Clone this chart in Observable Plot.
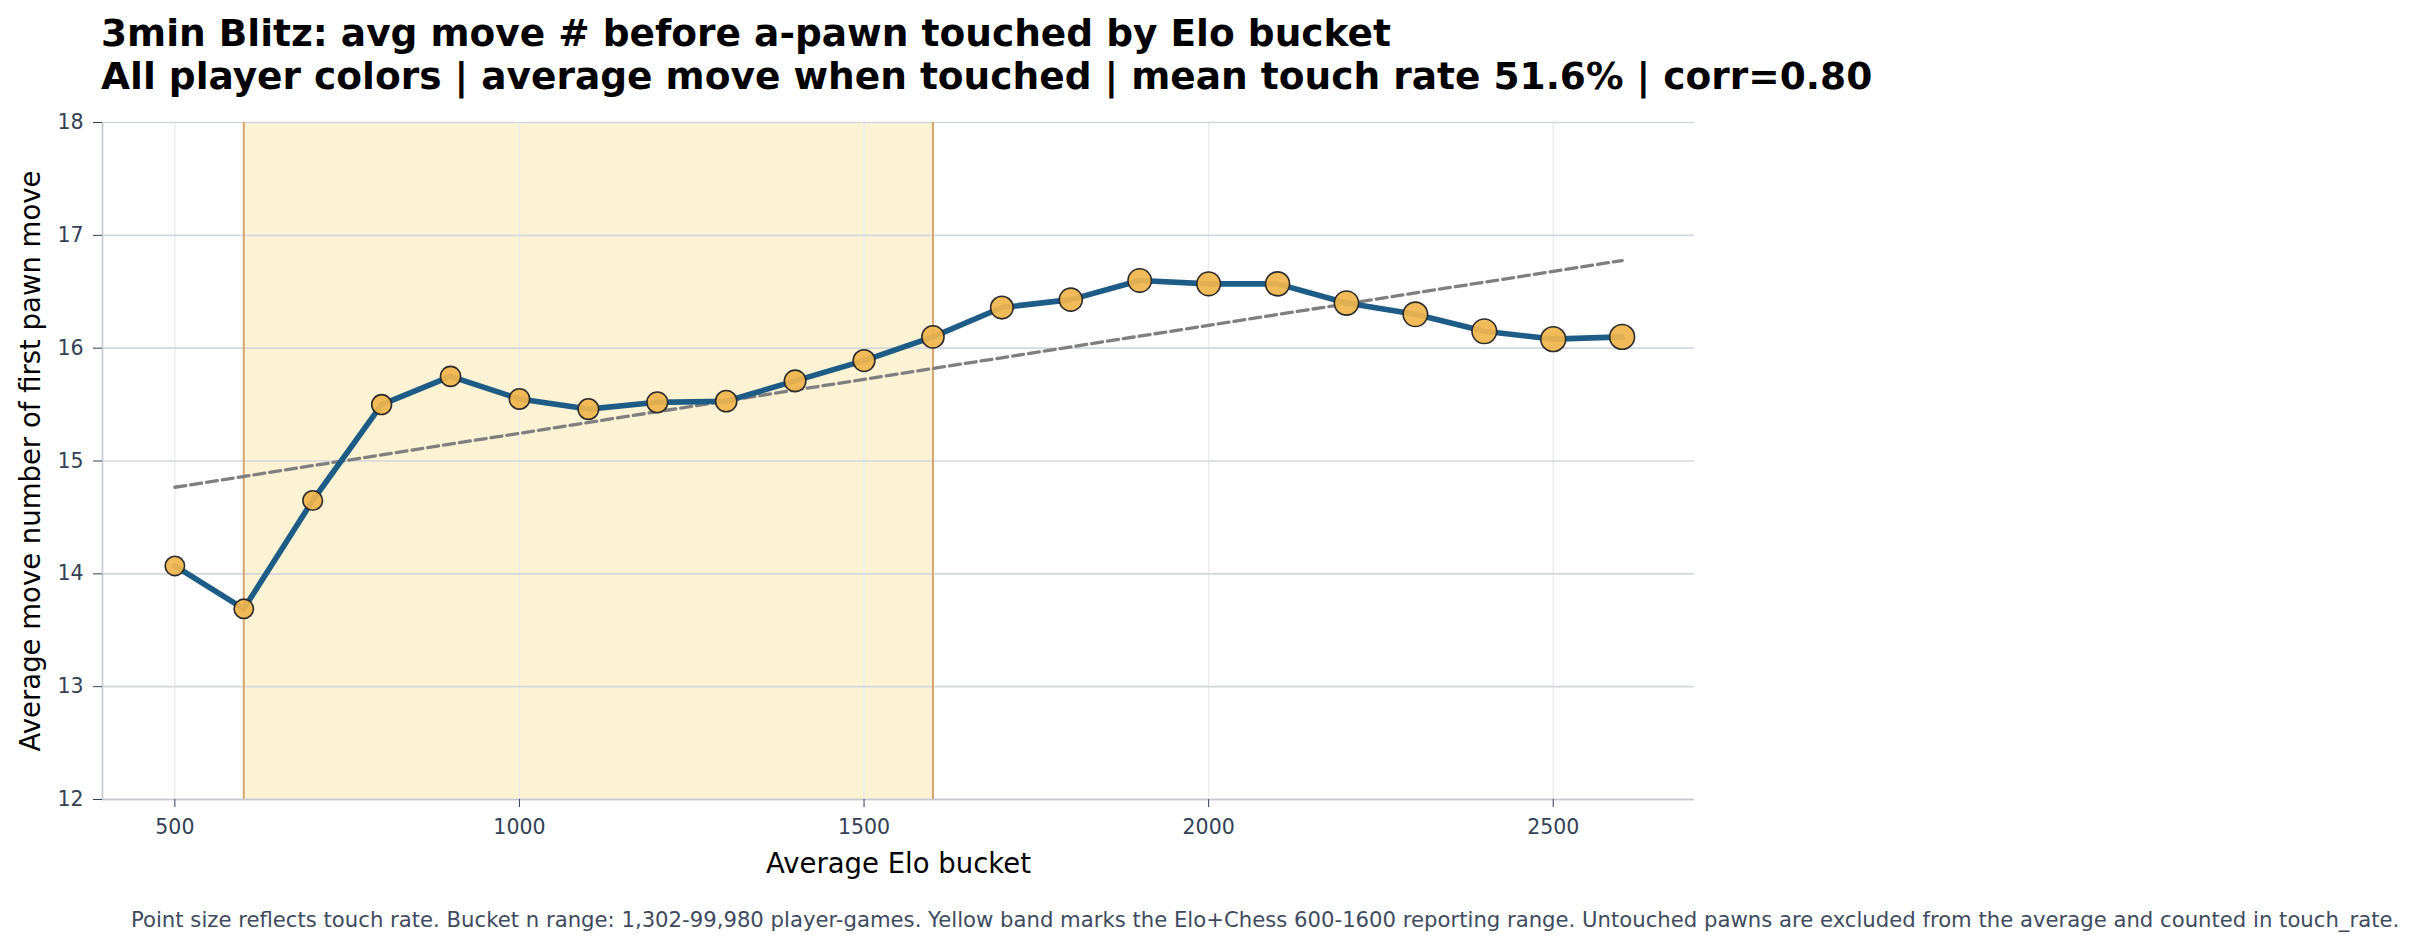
<!DOCTYPE html>
<html>
<head>
<meta charset="utf-8">
<script src="https://cdn.jsdelivr.net/npm/d3@7"></script>
<script src="https://cdn.jsdelivr.net/npm/@observablehq/plot@0.6"></script>
<style>
  html, body { margin: 0; padding: 0; background: #ffffff; }
  body { width: 2414px; height: 950px; overflow: hidden; font-family: "DejaVu Sans", sans-serif; }
  #title { height: 100px; box-sizing: border-box; padding: 12px 0 0 101px; font-weight: bold; font-size: 37.5px; line-height: 43px; color: #000; white-space: nowrap; }
  #chart { height: 800px; }
  #footer { height: 50px; box-sizing: border-box; padding-left: 131px; font-size: 21.2px; line-height: 40px; color: #3e4b5e; white-space: nowrap; }
</style>
</head>
<body>
<div id="title"><div>3min Blitz: avg move # before a-pawn touched by Elo bucket</div><div>All player colors | average move when touched | mean touch rate 51.6% | corr=0.80</div></div>
<div id="chart"></div>
<div id="footer">Point size reflects touch rate. Bucket n range: 1,302-99,980 player-games. Yellow band marks the Elo+Chess 600-1600 reporting range. Untouched pawns are excluded from the average and counted in touch_rate.</div>
<script>
const eloBuckets = [500, 600, 700, 800, 900, 1000, 1100, 1200, 1300, 1400, 1500, 1600, 1700, 1800, 1900, 2000, 2100, 2200, 2300, 2400, 2500, 2600];
const avgMove    = [14.07, 13.69, 14.65, 15.50, 15.75, 15.55, 15.46, 15.52, 15.53, 15.71, 15.89, 16.10, 16.36, 16.43, 16.60, 16.57, 16.57, 16.40, 16.30, 16.15, 16.08, 16.10];
const touchRate  = [0.39, 0.39, 0.40, 0.41, 0.42, 0.43, 0.44, 0.45, 0.47, 0.48, 0.49, 0.51, 0.53, 0.55, 0.57, 0.58, 0.60, 0.61, 0.62, 0.63, 0.64, 0.64];
const bandRange  = [600, 1600];
const xDomain    = [395, 2705];
const yDomain    = [12, 18];
const xTicks     = [500, 1000, 1500, 2000, 2500];
const yTicks     = [12, 13, 14, 15, 16, 17, 18];
const xLabel     = "Average Elo bucket";
const yLabel     = "Average move number of first pawn move";

const data = eloBuckets.map((elo, i) => ({elo, move: avgMove[i], rate: touchRate[i]}));
const band = [{x1: bandRange[0], x2: bandRange[1]}];

const chart = Plot.plot({
  width: 2414,
  height: 800,
  marginLeft: 102,
  marginRight: 720,
  marginTop: 22,
  marginBottom: 101,
  x: {domain: xDomain},
  y: {domain: yDomain},
  r: {type: "sqrt", domain: [0, 0.64], range: [0, 12.4]},
  style: {fontFamily: "DejaVu Sans, sans-serif", fontSize: "20.5px", color: "#334155", background: "#ffffff", overflow: "visible"},
  marks: [
    Plot.rect(band, {x1: "x1", x2: "x2", fill: "#fcf2d4"}),
    Plot.gridX({ticks: xTicks, stroke: "#e9ebef", strokeOpacity: 1, strokeWidth: 1.3}),
    Plot.gridY({ticks: yTicks, stroke: "#d3d7de", strokeOpacity: 1, strokeWidth: 1.6}),
    Plot.ruleX(bandRange, {stroke: "#d6a66e", strokeWidth: 2}),
    Plot.ruleY([yDomain[0]], {stroke: "#c3c8cf", strokeWidth: 1.6}),
    Plot.ruleX([xDomain[0]], {stroke: "#c3c8cf", strokeWidth: 1.6}),
    Plot.linearRegressionY(data, {x: "elo", y: "move", ci: 0, stroke: "#7f7f7f", strokeWidth: 3.3, strokeDasharray: "11,5"}),
    Plot.line(data, {x: "elo", y: "move", stroke: "#1d5c87", strokeWidth: 5.6}),
    Plot.dot(data, {x: "elo", y: "move", r: "rate", fill: "#f0b64e", fillOpacity: 0.93, stroke: "#2b2b2b", strokeWidth: 1.6}),
    Plot.axisX({ticks: xTicks, tickFormat: d => String(d), tickSize: 8, tickPadding: 12, label: null, stroke: "#334155", fill: "#334155"}),
    Plot.axisY({ticks: yTicks, tickFormat: d => String(d), tickSize: 9, tickPadding: 10, label: null, stroke: "#334155", fill: "#334155"}),
    Plot.text([xLabel], {frameAnchor: "bottom", dy: 73, fontSize: 27.5, fill: "#000000", textAnchor: "middle", text: d => d}),
    Plot.text([yLabel], {frameAnchor: "left", dx: -71, rotate: -90, fontSize: 27.5, fill: "#000000", textAnchor: "middle", text: d => d})
  ]
});
document.getElementById("chart").appendChild(chart);
</script>
</body>
</html>
